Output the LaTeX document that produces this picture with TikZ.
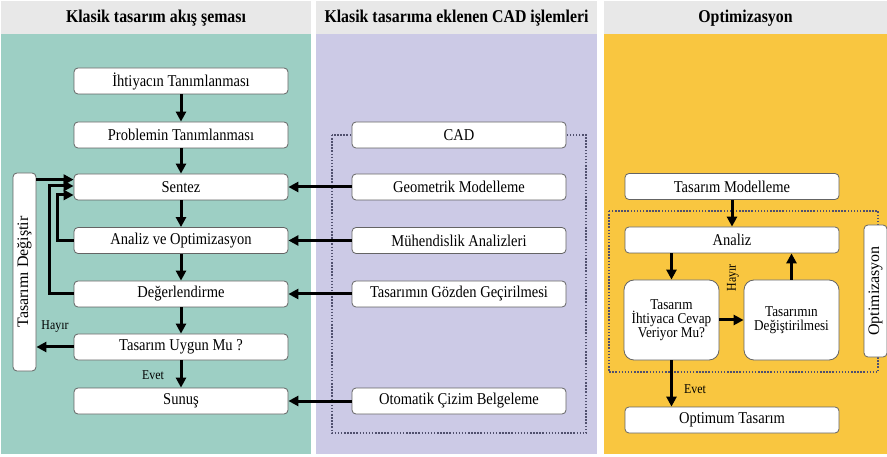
\documentclass[tikz,border=0pt]{standalone}
\usepackage{fontspec}
\setmainfont[FakeStretch=0.88]{Liberation Serif}
\newfontfamily\vfont{Liberation Serif}
\usetikzlibrary{arrows.meta,calc}
\definecolor{hdrc}{RGB}{232,232,232}
\definecolor{tealc}{RGB}{157,207,196}
\definecolor{lavc}{RGB}{204,202,230}
\definecolor{yelc}{RGB}{249,198,64}
\definecolor{bordc}{RGB}{100,100,100}
\definecolor{dotc}{RGB}{80,80,110}
\begin{document}
\begin{tikzpicture}[x=1pt,y=-1pt,
  box/.style={draw=bordc, fill=white, rounded corners=4pt, line width=0.8pt,
    minimum width=214pt, minimum height=26pt, inner sep=0pt,
    font=\fontsize{16.5}{18}\selectfont},
  bigbox/.style={draw=bordc, fill=white, rounded corners=10pt, line width=0.8pt,
    minimum width=95pt, minimum height=80pt, inner sep=0pt, align=center,
    font=\fontsize{15}{14}\selectfont},
  vbox/.style={draw=bordc, fill=white, rounded corners=4pt, line width=0.8pt,
    minimum width=23pt, inner sep=0pt},
  vtext/.style={rotate=90, font=\vfont\fontsize{16}{18}\selectfont, inner sep=0pt},
  hdrtext/.style={font=\bfseries\fontsize{18}{20}\selectfont},
  lbl/.style={font=\fontsize{13.5}{15}\selectfont, inner sep=0pt},
  arr/.style={line width=3pt, -{Triangle[length=10pt,width=10pt]}},
  dotframe/.style={draw=dotc, line width=1.5pt, dash pattern=on 1.5pt off 1.6pt}]
\useasboundingbox (0,0) rectangle (887,457);
\fill[white] (0,0) rectangle (887,457);
% columns
\fill[hdrc] (1,1) rectangle (311,34);
\fill[tealc] (1,34) rectangle (311,454);
\fill[hdrc] (316,1) rectangle (597,34);
\fill[lavc] (316,34) rectangle (597,454);
\fill[hdrc] (604,1) rectangle (887,34);
\fill[yelc] (604,34) rectangle (887,454);
\node[hdrtext] (h1) at (156,18) {Klasik tasarım akış şeması};
\node[hdrtext] (h2) at (456.5,18) {Klasik tasarıma eklenen CAD işlemleri};
\node[hdrtext] (h3) at (745.5,18) {Optimizasyon};
% dotted frames
\draw[dotframe] (332,135) rectangle (586,433);
\draw[dotframe] (609,211) rectangle (878,372);
% column 1
\node[box] (ihtiyac) at (181,81) {İhtiyacın Tanımlanması};
\node[box] (problem) at (181,135) {Problemin Tanımlanması};
\node[box] (sentez) at (181,187) {Sentez};
\node[box] (analiz) at (181,240.5) {Analiz ve Optimizasyon};
\node[box] (deger) at (181,294) {Değerlendirme};
\node[box] (uygun) at (181,347) {Tasarım Uygun Mu ?};
\node[box] (sunus) at (181,401) {Sunuş};
\node[vbox, minimum height=198pt] (degistir) at (24.5,272) {};
\node[vtext] (degistirtxt) at (degistir.center) {Tasarımı Değiştir};
% column 2
\node[box] (cad) at (459,135) {CAD};
\node[box] (geo) at (459,187) {Geometrik Modelleme};
\node[box] (muh) at (459,240.5) {Mühendislik Analizleri};
\node[box] (goz) at (459,294) {Tasarımın Gözden Geçirilmesi};
\node[box] (oto) at (459,401) {Otomatik Çizim Belgeleme};
% column 3
\node[box] (model) at (732,186.5) {Tasarım Modelleme};
\node[box] (analiz3) at (732,240) {Analiz};
\node[bigbox] (karar) at (671.5,320) {Tasarım\\İhtiyaca Cevap\\Veriyor Mu?};
\node[bigbox] (degis) at (791.5,320) {Tasarımın\\Değiştirilmesi};
\node[box] (optimum) at (732,420) {Optimum Tasarım};
\node[vbox, minimum height=132pt] (optbox) at (875.5,291) {};
\node[vtext] (opttxt) at (optbox.center) {Optimizasyon};
% arrows column 1
\draw[arr] (ihtiyac) -- (problem);
\draw[arr] (problem) -- (sentez);
\draw[arr] (sentez) -- (analiz);
\draw[arr] (analiz) -- (deger);
\draw[arr] (deger) -- (uygun);
\draw[arr] (uygun) -- (sunus);
\draw[arr] ([yshift=-7pt]degistir.north east) -- ([yshift=-7pt]degistir.north east -| sentez.west);
\draw[arr] (analiz.west) -- ++(-16,0) |- ([yshift=-8pt]sentez.west);
\draw[arr] (deger.west) -- ++(-24,0) |- ([yshift=1pt]sentez.west);
\draw[arr] (uygun.west) -- (uygun.west -| degistir.east);
\node[lbl] (hayir1) at (55,327) {Hayır};
\node[lbl] (evet1) at (153,375) {Evet};
% arrows column 2 -> 1
\draw[arr] (geo.west) -- (sentez.east);
\draw[arr] (muh.west) -- (analiz.east);
\draw[arr] (goz.west) -- (deger.east);
\draw[arr] (oto.west) -- (sunus.east);
% arrows column 3
\draw[arr] (model.south) -- (analiz3.north);
\draw[arr] (analiz3.south -| karar.north) -- (karar.north);
\draw[arr] (karar.east) -- (degis.west);
\draw[arr] (degis.north) -- (degis.north |- analiz3.south);
\draw[arr] (karar.south) -- (karar.south |- optimum.north);
\node[lbl, rotate=90] (hayir3) at (733,278) {Hayır};
\node[lbl] (evet3) at (695,389) {Evet};
\end{tikzpicture}
\end{document}
